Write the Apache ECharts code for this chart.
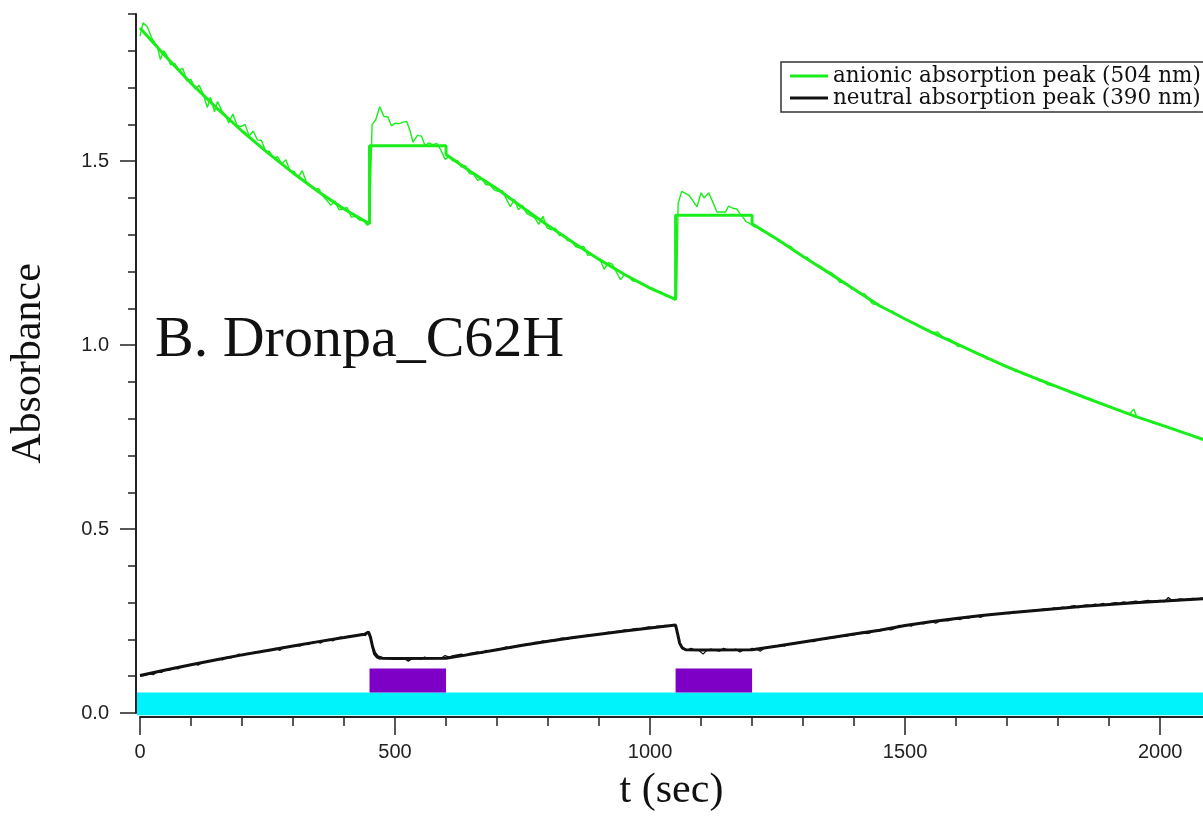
<!DOCTYPE html>
<html>
<head>
<meta charset="utf-8">
<script src="https://cdn.jsdelivr.net/npm/echarts@6/dist/echarts.min.js"></script>
<style>html,body{margin:0;padding:0;background:#fff}#c{width:1203px;height:821px}</style>
</head>
<body>
<div id="c"></div>
<script>
// ---------- data ----------
const nameAnionic = 'anionic absorption peak (504 nm)';
const nameNeutral = 'neutral absorption peak (390 nm)';
const annotation = 'B. Dronpa_C62H';

const xMajorTicks = [0, 500, 1000, 1500, 2000];
const xMinorTicks = [0,100,200,300,400,500,600,700,800,900,1000,1100,1200,1300,1400,1500,1600,1700,1800,1900,2000];
const yMajorTicks = [0, 0.5, 1.0, 1.5];
const yMinorTicks = [0,0.1,0.2,0.3,0.4,0.5,0.6,0.7,0.8,0.9,1.0,1.1,1.2,1.3,1.4,1.5,1.6,1.7,1.8,1.9];

// light bands: [tStart, tEnd, absLow, absHigh]
const cyanBand = [[-6, 2084, -0.006, 0.056]];
const violetPulses = [[450, 600, 0.056, 0.121], [1050, 1200, 0.056, 0.121]];

// anionic (504 nm) fitted curve [t, A]
const anionicFit = [[0,1.862],[50,1.785],[100,1.712],[150,1.645],[200,1.582],[250,1.523],[300,1.468],[350,1.417],[400,1.370],[450,1.330],
 [450,1.542],[600,1.542],[600,1.518],[650,1.470],[700,1.425],[750,1.374],[800,1.325],[850,1.278],[900,1.233],[950,1.192],[1000,1.155],[1050,1.124],
 [1050,1.353],[1200,1.353],[1200,1.330],[1250,1.287],[1300,1.241],[1350,1.197],[1400,1.152],[1450,1.107],[1500,1.071],[1550,1.036],[1600,1.004],
 [1650,0.972],[1700,0.941],[1750,0.913],[1800,0.886],[1850,0.859],[1900,0.833],[1950,0.807],[2000,0.784],[2050,0.760],[2100,0.736]];

// anionic (504 nm) measured [t, A]
const anionicRaw = [[0,1.840],[6,1.876],[14,1.866],[24,1.832],[34,1.812],[40,1.776],[46,1.800],[52,1.790],[60,1.762],[68,1.766],[76,1.748],[84,1.752],[92,1.718],[100,1.722],[108,1.696],[116,1.706],[124,1.682],[132,1.646],[138,1.674],[146,1.634],[152,1.662],[160,1.638],[168,1.624],[174,1.604],[182,1.628],[190,1.598],[198,1.594],[206,1.600],[214,1.568],[222,1.582],[230,1.558],[238,1.556],[246,1.528],[254,1.526],[262,1.508],[270,1.512],[278,1.492],[286,1.504],[294,1.474],[302,1.472],[310,1.456],[318,1.474],[326,1.444],[334,1.432],[342,1.422],[350,1.426],[358,1.406],[366,1.394],[374,1.380],[382,1.392],[390,1.368],[398,1.370],[406,1.374],[414,1.348],[422,1.350],[430,1.340],[438,1.338],[446,1.326],[450,1.332],
 [452,1.336],[455,1.600],[462,1.612],[470,1.648],[478,1.622],[486,1.620],[493,1.596],[500,1.603],[508,1.602],[516,1.606],[523,1.608],[530,1.580],[535,1.552],[544,1.570],[552,1.568],[559,1.541],[566,1.550],[574,1.545],[582,1.548],[590,1.530],[598,1.505],[606,1.512],
 [614,1.500],[622,1.502],[630,1.484],[638,1.488],[646,1.466],[654,1.464],[662,1.448],[670,1.452],[678,1.436],[686,1.436],[694,1.422],[702,1.418],[710,1.420],[718,1.398],[726,1.376],[734,1.396],[742,1.368],[750,1.380],[758,1.358],[766,1.352],[774,1.346],[782,1.328],[790,1.350],[798,1.318],[806,1.314],[814,1.318],[822,1.298],[830,1.300],[838,1.284],[846,1.282],[854,1.268],[862,1.264],[870,1.268],[878,1.244],[886,1.246],[894,1.238],[902,1.232],[910,1.206],[918,1.224],[926,1.220],[934,1.198],[942,1.178],[950,1.192],[958,1.186],[966,1.174],[974,1.174],[982,1.166],[990,1.164],[998,1.156],[1006,1.154],[1014,1.146],[1022,1.144],[1030,1.134],[1038,1.132],[1046,1.124],[1050,1.124],
 [1052,1.130],[1055,1.385],[1062,1.418],[1070,1.412],[1076,1.408],[1084,1.392],[1092,1.376],[1100,1.414],[1106,1.400],[1115,1.414],[1122,1.392],[1131,1.362],[1140,1.362],[1148,1.362],[1154,1.378],[1162,1.372],[1170,1.370],[1176,1.358],[1182,1.348],[1188,1.336],[1196,1.330],
 [1204,1.322],[1212,1.318],[1220,1.310],[1228,1.306],[1236,1.296],[1244,1.294],[1252,1.282],[1260,1.280],[1268,1.270],[1276,1.268],[1284,1.254],[1292,1.250],[1300,1.240],[1308,1.238],[1316,1.226],[1324,1.220],[1332,1.216],[1340,1.206],[1348,1.200],[1356,1.196],[1364,1.186],[1372,1.170],[1380,1.172],[1388,1.164],[1396,1.152],[1404,1.150],[1412,1.138],[1420,1.140],[1428,1.126],[1436,1.112],[1444,1.110],[1452,1.104],[1460,1.100],[1468,1.094],[1476,1.092],[1484,1.082],[1492,1.076],[1500,1.070],[1508,1.066],[1516,1.060],[1524,1.056],[1532,1.048],[1540,1.044],[1548,1.038],[1556,1.034],[1564,1.036],[1572,1.022],[1580,1.018],[1588,1.016],[1596,1.006],[1604,0.996],[1612,0.998],[1620,0.990],[1628,0.986],[1636,0.980],[1644,0.974],[1652,0.974],[1660,0.962],[1668,0.962],[1676,0.954],[1684,0.950],[1692,0.946],[1700,0.940],[1708,0.938],[1716,0.928],[1724,0.928],[1732,0.920],[1740,0.918],[1748,0.912],[1756,0.910],[1764,0.902],[1772,0.900],[1780,0.892],[1788,0.890],[1796,0.888],[1804,0.884],[1812,0.878],[1820,0.874],[1828,0.868],[1836,0.868],[1844,0.862],[1852,0.856],[1860,0.856],[1868,0.848],[1876,0.846],[1884,0.840],[1892,0.838],[1900,0.832],[1908,0.828],[1916,0.824],[1924,0.820],[1932,0.816],[1940,0.812],[1948,0.826],[1954,0.806],[1962,0.800],[1970,0.798],[1978,0.794],[1986,0.788],[1994,0.786],[2002,0.782],[2010,0.780],[2018,0.776],[2026,0.772],[2034,0.768],[2042,0.764],[2050,0.760],[2058,0.758],[2066,0.752],[2074,0.748],[2082,0.744],[2090,0.740]];

// neutral (390 nm) fitted curve [t, A]
const neutralFit = [[0,0.102],[50,0.117],[100,0.131],[150,0.145],[200,0.158],[250,0.170],[300,0.182],[350,0.194],[400,0.205],[440,0.214],[448,0.220],[452,0.205],[456,0.180],[460,0.163],[466,0.153],[475,0.149],[500,0.148],[600,0.149],
 [650,0.160],[700,0.172],[750,0.184],[800,0.195],[850,0.205],[900,0.214],[950,0.223],[1000,0.231],[1050,0.239],[1054,0.215],[1058,0.190],[1063,0.177],[1070,0.172],[1100,0.171],[1200,0.172],
 [1250,0.182],[1300,0.193],[1350,0.204],[1400,0.215],[1450,0.225],[1500,0.238],[1550,0.248],[1600,0.257],[1650,0.265],[1700,0.272],[1750,0.278],[1800,0.284],[1850,0.290],[1900,0.295],[1950,0.300],[2000,0.304],[2050,0.308],[2100,0.312]];

// neutral (390 nm) measured [t, A]
const neutralRaw = [[0,0.100],[10,0.102],[18,0.106],[26,0.104],[34,0.112],[42,0.110],[50,0.118],[58,0.116],[66,0.124],[74,0.120],[82,0.126],[90,0.128],[98,0.130],[106,0.134],[114,0.130],[122,0.138],[130,0.140],[138,0.142],[146,0.144],[154,0.148],[162,0.144],[170,0.152],[178,0.150],[186,0.154],[194,0.160],[202,0.156],[210,0.162],[218,0.162],[226,0.166],[234,0.164],[242,0.170],[250,0.168],[258,0.172],[266,0.176],[274,0.170],[282,0.180],[290,0.178],[298,0.182],[306,0.184],[314,0.182],[322,0.188],[330,0.186],[338,0.192],[346,0.194],[354,0.190],[362,0.198],[370,0.200],[378,0.196],[386,0.204],[394,0.206],[402,0.204],[410,0.210],[418,0.208],[426,0.212],[434,0.214],[442,0.210],[448,0.222],[452,0.210],[458,0.160],[464,0.150],[470,0.146],[478,0.150],[486,0.148],[494,0.150],[502,0.146],[510,0.150],[518,0.148],[526,0.141],[534,0.148],[542,0.150],[550,0.146],[558,0.152],[566,0.148],[574,0.150],[582,0.150],[590,0.148],[598,0.156],[606,0.152],
 [614,0.156],[622,0.158],[630,0.160],[638,0.156],[646,0.162],[654,0.164],[662,0.166],[670,0.162],[678,0.170],[686,0.168],[694,0.172],[702,0.174],[710,0.176],[718,0.180],[726,0.176],[734,0.182],[742,0.184],[750,0.184],[758,0.188],[766,0.186],[774,0.192],[782,0.192],[790,0.196],[798,0.194],[806,0.198],[814,0.196],[822,0.202],[830,0.204],[838,0.200],[846,0.206],[854,0.204],[862,0.208],[870,0.210],[878,0.212],[886,0.210],[894,0.214],[902,0.216],[910,0.214],[918,0.220],[926,0.218],[934,0.222],[942,0.222],[950,0.226],[958,0.224],[966,0.228],[974,0.230],[982,0.228],[990,0.232],[998,0.234],[1006,0.232],[1014,0.236],[1022,0.236],[1030,0.238],[1038,0.236],[1046,0.240],
 [1052,0.230],[1058,0.186],[1064,0.174],[1072,0.170],[1080,0.176],[1088,0.172],[1096,0.170],[1104,0.160],[1112,0.172],[1120,0.174],[1128,0.170],[1136,0.168],[1144,0.176],[1152,0.172],[1160,0.170],[1168,0.174],[1176,0.166],[1184,0.172],[1192,0.170],[1200,0.176],
 [1208,0.174],[1216,0.168],[1224,0.176],[1232,0.180],[1240,0.178],[1248,0.182],[1256,0.184],[1264,0.182],[1272,0.188],[1280,0.188],[1288,0.190],[1296,0.192],[1304,0.194],[1312,0.196],[1320,0.194],[1328,0.198],[1336,0.202],[1344,0.200],[1352,0.206],[1360,0.204],[1368,0.206],[1376,0.210],[1384,0.208],[1392,0.212],[1400,0.212],[1408,0.216],[1416,0.220],[1424,0.216],[1432,0.218],[1440,0.224],[1448,0.222],[1456,0.226],[1464,0.228],[1472,0.226],[1480,0.230],[1488,0.238],[1496,0.236],[1504,0.240],[1512,0.236],[1520,0.242],[1528,0.244],[1536,0.242],[1544,0.246],[1552,0.248],[1560,0.244],[1568,0.250],[1576,0.252],[1584,0.250],[1592,0.254],[1600,0.256],[1608,0.254],[1616,0.260],[1624,0.258],[1632,0.262],[1640,0.264],[1648,0.260],[1656,0.266],[1664,0.266],[1672,0.270],[1680,0.268],[1688,0.270],[1696,0.272],[1704,0.270],[1712,0.276],[1720,0.274],[1728,0.276],[1736,0.278],[1744,0.276],[1752,0.280],[1760,0.278],[1768,0.282],[1776,0.284],[1784,0.282],[1792,0.286],[1800,0.284],[1808,0.288],[1816,0.286],[1824,0.290],[1832,0.292],[1840,0.286],[1848,0.292],[1856,0.294],[1864,0.292],[1872,0.296],[1880,0.294],[1888,0.298],[1896,0.292],[1904,0.298],[1912,0.300],[1920,0.298],[1928,0.302],[1936,0.300],[1944,0.302],[1952,0.304],[1960,0.302],[1968,0.304],[1976,0.306],[1984,0.304],[1992,0.304],[2000,0.306],[2008,0.302],[2016,0.314],[2024,0.306],[2032,0.308],[2040,0.310],[2048,0.308],[2056,0.310],[2064,0.312],[2072,0.310],[2080,0.312],[2088,0.313]];

// ---------- chart ----------
const GREEN = '#1aee1a', BLACK = '#111111', CYAN = '#00f3fb', VIOLET = '#7e00c6';
const AXC = '#222';
const serif = 'Liberation Serif';
const sans = '"Liberation Sans Narrow", "Liberation Sans", sans-serif';

function rectRenderer(color) {
  return function (params, api) {
    const p0 = api.coord([api.value(0), api.value(3)]);
    const p1 = api.coord([api.value(1), api.value(2)]);
    return { type: 'rect', shape: { x: p0[0], y: p0[1], width: p1[0] - p0[0], height: p1[1] - p0[1] }, style: { fill: color } };
  };
}

const X_MIN = 0, X_MAX = 2084, Y_MIN = 0, Y_MAX = 1.9;

const chart = echarts.init(document.getElementById('c'), null, { renderer: 'canvas' });
chart.setOption({
  animation: false,
  backgroundColor: '#fff',
  grid: { left: 140, right: 0, top: 14, bottom: 108, containLabel: false },
  legend: {
    left: 781, top: 62, orient: 'vertical',
    data: [nameAnionic, nameNeutral],
    backgroundColor: '#fff', borderColor: '#333', borderWidth: 1.5, borderRadius: 0,
    padding: [3, 8, 3, 9], itemGap: 0, itemWidth: 38, itemHeight: 3, icon: 'rect',
    textStyle: { fontFamily: 'DejaVu Serif', fontSize: 21.5, lineHeight: 19, color: '#111', padding: [0, 0, 0, 0] },
    selectedMode: false
  },
  graphic: [{
    type: 'text', left: 155, top: 312,
    style: { text: annotation, font: '58px "Liberation Serif"', fill: '#111' }
  }],
  xAxis: [{
    type: 'value', min: X_MIN, max: X_MAX, offset: 4,
    name: 't (sec)', nameLocation: 'middle', nameGap: 53,
    nameTextStyle: { fontFamily: serif, fontSize: 42, color: '#111' },
    axisLine: { show: true, onZero: false, lineStyle: { color: AXC, width: 2 } },
    axisTick: { show: true, inside: false, length: 18, lineStyle: { color: AXC, width: 1.5 }, customValues: xMajorTicks },
    axisLabel: { show: true, margin: 25, fontFamily: sans, fontSize: 20, color: '#222', customValues: xMajorTicks,
      formatter: v => String(v) },
    splitLine: { show: false }
  }, {
    type: 'value', min: X_MIN, max: X_MAX, offset: 4, position: 'bottom', gridIndex: 0,
    axisLine: { show: false, onZero: false },
    axisTick: { show: true, inside: false, length: 9, lineStyle: { color: AXC, width: 1.5 }, customValues: xMinorTicks },
    axisLabel: { show: false },
    splitLine: { show: false }
  }],
  yAxis: [{
    type: 'value', min: Y_MIN, max: Y_MAX, offset: 4,
    name: 'Absorbance', nameLocation: 'middle', nameGap: 86, nameRotate: 90,
    nameTextStyle: { fontFamily: serif, fontSize: 42, color: '#111' },
    axisLine: { show: true, onZero: false, lineStyle: { color: AXC, width: 2 } },
    axisTick: { show: true, inside: false, length: 16, lineStyle: { color: AXC, width: 1.5 }, customValues: yMajorTicks },
    axisLabel: { show: true, margin: 27, fontFamily: sans, fontSize: 20, color: '#222', customValues: yMajorTicks,
      formatter: v => v.toFixed(1) },
    splitLine: { show: false }
  }, {
    type: 'value', min: Y_MIN, max: Y_MAX, offset: 4, position: 'left', gridIndex: 0,
    axisLine: { show: false, onZero: false },
    axisTick: { show: true, inside: false, length: 8, lineStyle: { color: AXC, width: 1.5 }, customValues: yMinorTicks },
    axisLabel: { show: false },
    splitLine: { show: false }
  }],
  series: [
    { type: 'custom', name: 'cyan', clip: false, renderItem: rectRenderer(CYAN), data: cyanBand,
      encode: { x: [0, 1], y: [2, 3] }, z: 1, silent: true },
    { type: 'custom', name: 'violet', clip: false, renderItem: rectRenderer(VIOLET), data: violetPulses,
      encode: { x: [0, 1], y: [2, 3] }, z: 1, silent: true },
    { type: 'line', name: nameAnionic, data: anionicRaw, showSymbol: false, symbol: 'none',
      lineStyle: { color: GREEN, width: 1.4 }, itemStyle: { color: GREEN }, z: 3 },
    { type: 'line', name: nameAnionic, data: anionicFit, showSymbol: false, symbol: 'none',
      lineStyle: { color: GREEN, width: 3 }, itemStyle: { color: GREEN }, z: 4 },
    { type: 'line', name: nameNeutral, data: neutralRaw, showSymbol: false, symbol: 'none',
      lineStyle: { color: BLACK, width: 1.2 }, itemStyle: { color: BLACK }, z: 3 },
    { type: 'line', name: nameNeutral, data: neutralFit, showSymbol: false, symbol: 'none',
      lineStyle: { color: BLACK, width: 3 }, itemStyle: { color: BLACK }, z: 4 }
  ]
});
</script>
</body>
</html>
